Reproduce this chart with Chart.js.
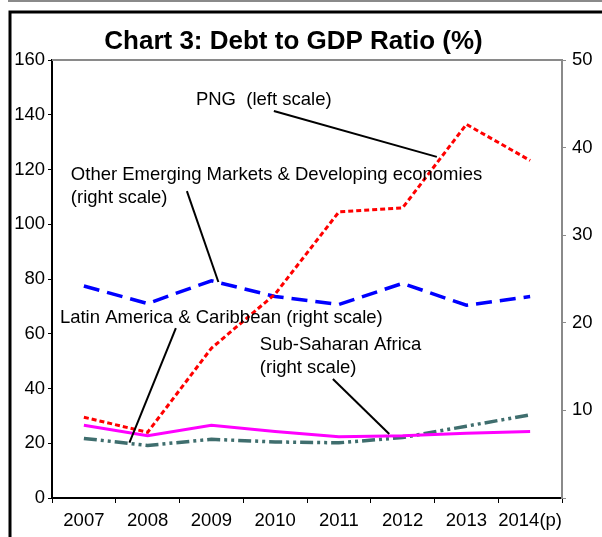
<!DOCTYPE html>
<html>
<head>
<meta charset="utf-8">
<script src="https://cdn.jsdelivr.net/npm/chart.js@4/dist/chart.umd.min.js"></script>
<style>
  html, body { margin: 0; padding: 0; background: #fff; }
  #wrap { width: 602px; height: 537px; position: relative; }
  canvas { display: block; }
</style>
</head>
<body>
<div id="wrap"><canvas id="c" width="602" height="537"></canvas></div>
<script>
// ---- data ----
const years = ['2007', '2008', '2009', '2010', '2011', '2012', '2013', '2014(p)'];
const pngLeft = [29.5, 24, 54.7, 74.5, 104.5, 106, 136.5, 123.3];          // left scale
const otherEmRight = [24.2, 22.2, 24.8, 23.0, 22.1, 24.5, 22.0, 23.0];     // right scale
const subSaharanRight = [8.3, 7.1, 8.3, 7.6, 7.0, 7.1, 7.4, 7.6];          // right scale
const latinAmRight = [6.8, 6.0, 6.7, 6.4, 6.3, 6.9, 8.2, 9.5];             // right scale
const leftTicks = { min: 0, max: 160, step: 20 };
const rightTicks = { min: 0, max: 50, step: 10 };

// annotation texts, anchored in data space (category index, left-scale value)
const noteTexts = [
  'PNG  (left scale)',
  'Other Emerging Markets & Developing economies',
  '(right scale)',
  'Latin America & Caribbean (right scale)',
  'Sub-Saharan Africa',
  '(right scale)'
];
const noteAnchors = [
  [1.757, 145.4], [-0.204, 118.0], [-0.204, 109.6], [-0.376, 65.8], [2.76, 55.9], [2.76, 47.5]
];
// pointer lines: [x0, y0, x1, y1] in (category index, left value)
const pointerLines = [
  [2.98, 141.4, 5.537, 124.6],
  [1.616, 112.1, 2.11, 78.9],
  [1.443, 62.1, 0.715, 20.2],
  [3.906, 43.5, 4.79, 23.4]
];

const FONT = "'Liberation Sans', Arial, sans-serif";

const decor = {
  id: 'decor',
  beforeDraw(chart) {
    const ctx = chart.ctx;
    ctx.save();
    ctx.fillStyle = '#fff';
    ctx.fillRect(0, 0, chart.width, chart.height);
    // grey line at very top
    ctx.strokeStyle = '#8a8a8a';
    ctx.lineWidth = 2;
    ctx.beginPath(); ctx.moveTo(8, 1); ctx.lineTo(602, 1); ctx.stroke();
    // black outer frame (left & top)
    ctx.strokeStyle = '#000';
    ctx.lineWidth = 3;
    ctx.beginPath();
    ctx.moveTo(10, 537); ctx.lineTo(10, 12); ctx.lineTo(602, 12);
    ctx.stroke();
    ctx.restore();
  },
  afterDraw(chart) {
    const ctx = chart.ctx;
    const a = chart.chartArea;
    const xs = chart.scales.x, ys = chart.scales.y;
    ctx.save();
    // top border of plot
    ctx.strokeStyle = '#8a8a8a';
    ctx.lineWidth = 2;
    ctx.beginPath(); ctx.moveTo(a.left, a.top); ctx.lineTo(a.right, a.top); ctx.stroke();
    // pointer lines
    ctx.strokeStyle = '#000';
    ctx.lineWidth = 2;
    pointerLines.forEach(p => {
      ctx.beginPath();
      ctx.moveTo(xs.getPixelForValue(p[0]), ys.getPixelForValue(p[1]));
      ctx.lineTo(xs.getPixelForValue(p[2]), ys.getPixelForValue(p[3]));
      ctx.stroke();
    });
    // annotation texts
    ctx.fillStyle = '#000';
    ctx.font = '18.5px ' + FONT;
    ctx.textAlign = 'left';
    ctx.textBaseline = 'middle';
    noteTexts.forEach((t, i) => {
      ctx.fillText(t, xs.getPixelForValue(noteAnchors[i][0]), ys.getPixelForValue(noteAnchors[i][1]));
    });
    ctx.restore();
  }
};

new Chart(document.getElementById('c'), {
  type: 'line',
  data: {
    labels: years,
    datasets: [
      { label: 'PNG', data: pngLeft, yAxisID: 'y', borderColor: '#ff0000', borderWidth: 3, borderDash: [5, 3], pointRadius: 0, fill: false },
      { label: 'Other Emerging Markets & Developing economies', data: otherEmRight, yAxisID: 'y1', borderColor: '#0000ff', borderWidth: 3.5, borderDash: [16, 8], pointRadius: 0, fill: false },
      { label: 'Sub-Saharan Africa', data: subSaharanRight, yAxisID: 'y1', borderColor: '#ff00ff', borderWidth: 3, pointRadius: 0, fill: false },
      { label: 'Latin America & Caribbean', data: latinAmRight, yAxisID: 'y1', borderColor: '#3f6e6e', borderWidth: 3.5, borderDash: [13, 4, 3, 4, 3, 4], pointRadius: 0, fill: false }
    ]
  },
  options: {
    responsive: false,
    animation: false,
    layout: { padding: { left: -15, right: 0, top: 0, bottom: 0 } },
    plugins: {
      legend: { display: false },
      tooltip: { enabled: false },
      title: {
        display: true,
        text: 'Chart 3: Debt to GDP Ratio (%)',
        color: '#000',
        font: { family: FONT, size: 26, weight: 'bold' },
        padding: { top: 26, bottom: 2.8 }
      }
    },
    scales: {
      x: {
        type: 'category',
        offset: true,
        grid: { offset: true, drawOnChartArea: false, drawTicks: true, tickLength: 5, color: '#000', lineWidth: 1 },
        border: { display: true, color: '#000', width: 2 },
        ticks: { color: '#000', font: { family: FONT, size: 18.5 }, padding: 7, maxRotation: 0, autoSkip: false },
        afterFit: s => { s.height = 39; }
      },
      y: {
        position: 'left',
        min: leftTicks.min, max: leftTicks.max,
        ticks: { stepSize: leftTicks.step, color: '#000', font: { family: FONT, size: 18.5 }, padding: 3 },
        grid: { drawOnChartArea: false, drawTicks: true, tickLength: 4, color: '#000' },
        border: { display: true, color: '#000', width: 2 },
        afterFit: s => { s.width = 67; }
      },
      y1: {
        position: 'right',
        min: rightTicks.min, max: rightTicks.max,
        ticks: { stepSize: rightTicks.step, color: '#000', font: { family: FONT, size: 18.5 }, padding: 6,
          callback: v => (v === 0 ? '' : v) },
        grid: { drawOnChartArea: false, drawTicks: true, tickLength: 4, color: '#8a8a8a' },
        border: { display: true, color: '#8a8a8a', width: 2 },
        afterFit: s => { s.width = 40; }
      }
    }
  },
  plugins: [decor]
});
</script>
</body>
</html>
